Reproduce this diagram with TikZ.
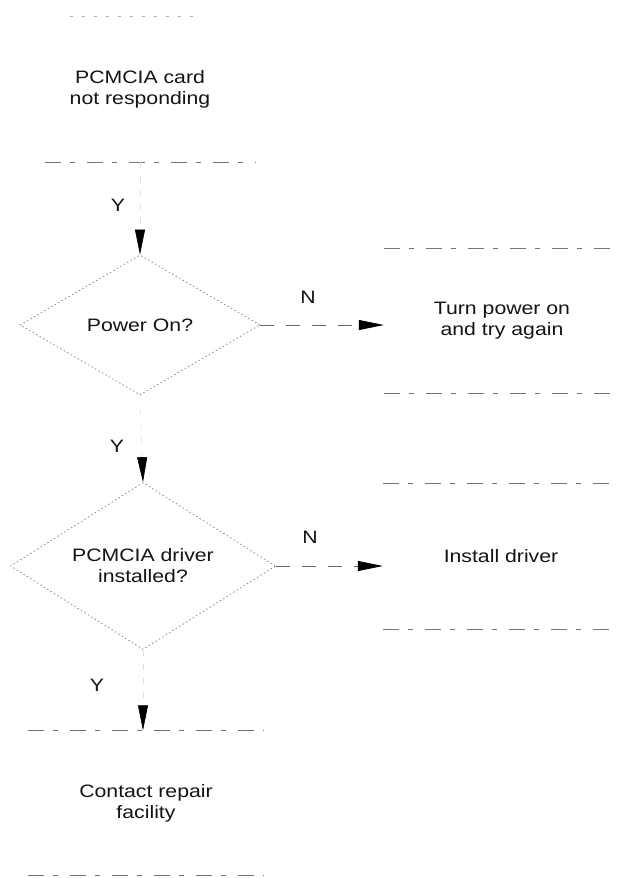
\documentclass[tikz,border=0pt]{standalone}
\usepackage{fontspec}
\setmainfont[FakeStretch=1.18]{Liberation Sans}
\usetikzlibrary{shapes.geometric,arrows.meta}
\begin{document}
\begin{tikzpicture}[x=1pt,y=1pt,
  every node/.style={font=\fontsize{18}{21}\selectfont, text=black!92},
  edgeline/.style={draw=black!55, line width=0.8pt, dash pattern=on 16pt off 9pt on 5pt off 12pt},
  edgelineR/.style={edgeline, shorten >=-30pt},
  faintline/.style={draw=black!30, line width=0.7pt, dash pattern=on 3pt off 9pt},
  procbox/.style={rectangle, inner sep=0pt, align=center, minimum height=145pt,
    append after command={
      (\tikzlastnode.north west) edge[edgeline] (\tikzlastnode.north east)
      (\tikzlastnode.south west) edge[edgeline] (\tikzlastnode.south east)}},
  startbox/.style={rectangle, inner sep=0pt, align=center, minimum height=145pt,
    append after command={
      ([xshift=45pt]\tikzlastnode.north west) edge[faintline] ([xshift=-60pt]\tikzlastnode.north east)
      ([xshift=20pt]\tikzlastnode.south west) edge[edgeline] (\tikzlastnode.south east)}},
  procboxR/.style={rectangle, inner sep=0pt, align=center, minimum height=145pt,
    append after command={
      (\tikzlastnode.north west) edge[edgelineR] (\tikzlastnode.north east)
      (\tikzlastnode.south west) edge[edgelineR] (\tikzlastnode.south east)}},
  decision/.style={diamond, draw=black!50, line width=0.7pt, dash pattern=on 1.5pt off 2.5pt,
    inner sep=0pt, shape aspect=1.7, align=center},
  hflow/.style={draw=black!60, line width=0.8pt, dash pattern=on 14pt off 12pt,
    -{Triangle[length=25pt,width=10pt,color=black]}},
  vflow/.style={draw=black!12, line width=0.6pt, dash pattern=on 6pt off 8pt,
    -{Triangle[length=25pt,width=10pt,color=black]}},
  lbl/.style={inner sep=0pt}
]
\useasboundingbox (0,0) rectangle (617,-878);
\clip (0,0) rectangle (617,-878);

\node[startbox, minimum width=230pt] (start) at (140,-89.5) {PCMCIA card\\not responding};
\node[decision, minimum width=240pt, minimum height=140pt] (power) at (140,-325) {Power On?};
\node[procboxR, minimum width=236pt] (turnon) at (502,-321) {Turn power on\\and try again};
\node[decision, minimum width=265pt, minimum height=167pt] (driver) at (143,-566) {PCMCIA driver\\installed?};
\node[procboxR, minimum width=236pt] (install) at (501,-556.5) {Install driver};
\node[procbox, minimum width=236pt] (repair) at (146,-803) {Contact repair\\facility};

\node[lbl] (y1) at (118,-205) {Y};
\node[lbl] (n1) at (308,-297) {N};
\node[lbl] (y2) at (117,-446) {Y};
\node[lbl] (n2) at (310,-537) {N};
\node[lbl] (y3) at (97,-685) {Y};

\draw[vflow] (start.south) -- (power.north);
\draw[hflow] (power.east) -- (power.east -| turnon.west);
\draw[vflow] (power.south) -- (driver.north);
\draw[hflow] (driver.east) -- (driver.east -| install.west);
\draw[vflow] (driver.south) -- (driver.south |- repair.north);
\end{tikzpicture}
\end{document}
